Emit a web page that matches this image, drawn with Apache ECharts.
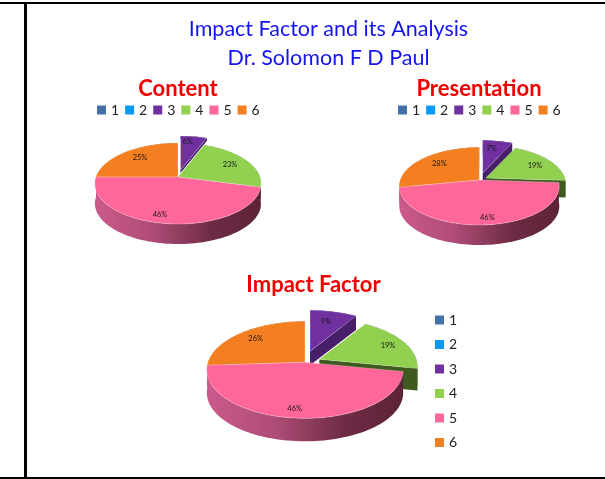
<!DOCTYPE html>
<html>
<head>
<meta charset="utf-8">
<style>html,body{margin:0;padding:0;background:#fff}#c{width:605px;height:479px}</style>
<script src="https://cdn.jsdelivr.net/npm/echarts@6/dist/echarts.min.js"></script>
</head>
<body>
<div id="c"></div>
<script>
// ----- data -----
var categories = ['1', '2', '3', '4', '5', '6'];
var contentValues = [0, 0, 6, 23, 46, 25];
var presentationValues = [0, 0, 7, 19, 46, 28];
var impactValues = [0, 0, 9, 19, 46, 26];

// ----- styles -----
var colors = ['#4472a8', '#0a98f5', '#7030a0', '#92d050', '#ff6699', '#f47f20'];
var sideColors = ['#2c4a6e', '#06629f', '#48206a', '#3e5a1e', '#a04a6e', '#9c5214'];

// ----- layout of the three pies -----
var pies = [
  { values: contentValues, cx: 178, cy: 177, rx: 82, ryTop: 34, ryBottom: 47, depth: 20,
    explode: { 2: [2.5, -7, 3] },
    labels: { 2: [9.7, -35], 3: [52, -12.7], 4: [-18, 38], 5: [-38, -19] } },
  { values: presentationValues, cx: 479.3, cy: 180, rx: 79, ryTop: 32.7, ryBottom: 45, depth: 20,
    explode: { 2: [3.4, -7, 15], 3: [6.5, -2, 17] },
    labels: { 2: [12.4, -31.7], 3: [55.7, -14.7], 4: [8, 37.3], 5: [-40, -16.7] } },
  { values: impactValues, cx: 305, cy: 362.3, rx: 97, ryTop: 41, ryBottom: 56, depth: 23,
    explode: { 2: [5, -11, 14], 3: [14.3, -3, 22] },
    labels: { 2: [21, -40.6], 3: [83, -17], 4: [-10.3, 46.7], 5: [-49.3, -24] } }
];

var DEG = Math.PI / 180;

function project(p, deg) {
  var persp = (p.ryBottom - p.ryTop) / (p.ryBottom + p.ryTop);
  var ry = p.ryTop * (1 + persp);
  var s = Math.sin(deg * DEG), c = Math.cos(deg * DEG), d = 1 + persp * c;
  return [p.rx * s / d, -ry * c / d];
}

function makeRenderItem(catIndex) {
  return function (params, api) {
    var value = api.value(0);
    if (!value) return null;
    var p = pies[params.dataIndex];
    var total = p.values.reduce(function (a, b) { return a + b; }, 0);
    var before = p.values.slice(0, catIndex).reduce(function (a, b) { return a + b; }, 0);
    var a0 = before / total * 360, a1 = (before + value) / total * 360;
    var ex = p.explode[catIndex];
    var ox = p.cx + (ex ? ex[0] : 0), oy = p.cy + (ex ? ex[1] : 0);
    var depth = ex ? ex[2] : p.depth;
    var rim = [];
    var n = Math.max(4, Math.ceil((a1 - a0) / 2));
    for (var k = 0; k <= n; k++) {
      var q = project(p, a0 + (a1 - a0) * k / n);
      rim.push([ox + q[0], oy + q[1]]);
    }
    var sidePts = rim.concat(rim.slice().reverse().map(function (r) { return [r[0], r[1] + depth]; }));
    var sideFill = sideColors[catIndex];
    if (catIndex === 4) {
      sideFill = new echarts.graphic.LinearGradient(0, 0, 1, 0, [
        { offset: 0, color: '#cb5a8c' },
        { offset: 0.35, color: '#ae4c76' },
        { offset: 0.7, color: '#6e2b45' },
        { offset: 1, color: '#5c2338' }
      ]);
    }
    var children = [{ type: 'polygon', shape: { points: sidePts }, style: { fill: sideFill } }];
    if (ex) {
      var end = rim[rim.length - 1];
      children.push({
        type: 'polygon',
        shape: { points: [[ox, oy], end, [end[0], end[1] + depth], [ox, oy + depth]] },
        style: { fill: sideColors[catIndex] }
      });
    }
    children.push({
      type: 'polygon',
      shape: { points: [[ox, oy]].concat(rim) },
      style: { fill: colors[catIndex], stroke: 'rgba(255,255,255,0.35)', lineWidth: 0.7 }
    });
    var lab = p.labels[catIndex];
    if (lab) {
      children.push({
        type: 'text',
        style: {
          x: p.cx + lab[0], y: p.cy + lab[1], text: value + '%',
          fill: '#1a1a1a', font: '7.5px Lato', align: 'center', verticalAlign: 'middle'
        }
      });
    }
    return { type: 'group', children: children };
  };
}

var paintOrder = [0, 1, 2, 3, 5, 4];
var series = paintOrder.map(function (i, order) {
  return {
    type: 'custom',
    name: categories[i],
    coordinateSystem: 'none',
    silent: true,
    z: 2 + order,
    itemStyle: { color: colors[i] },
    data: pies.map(function (p) { return [p.values[i]]; }),
    renderItem: makeRenderItem(i),
    animation: false
  };
});

var legendText = { fontFamily: 'Lato', fontSize: 14, color: '#222', lineHeight: 14 };

var option = {
  animation: false,
  backgroundColor: '#fff',
  title: [
    { text: 'Impact Factor and its Analysis\nDr. Solomon F D Paul', left: 323.5, top: 10, textAlign: 'center',
      textStyle: { fontFamily: 'Lato', fontSize: 21.5, fontWeight: 'normal', color: '#1414f0', lineHeight: 29 } },
    { text: 'Content', left: 173, top: 73, textAlign: 'center',
      textStyle: { fontFamily: 'Lato', fontSize: 22, fontWeight: 'bold', color: '#f00000' } },
    { text: 'Presentation', left: 474, top: 73, textAlign: 'center',
      textStyle: { fontFamily: 'Lato', fontSize: 22, fontWeight: 'bold', color: '#f00000' } },
    { text: 'Impact Factor', left: 308.5, top: 269, textAlign: 'center',
      textStyle: { fontFamily: 'Lato', fontSize: 22, fontWeight: 'bold', color: '#f00000' } }
  ],
  legend: [
    { data: categories, left: 97, top: 103, padding: 0, orient: 'horizontal', icon: 'rect', itemWidth: 9, itemHeight: 9, itemGap: 6, selectedMode: false, textStyle: legendText },
    { data: categories, left: 398, top: 103, padding: 0, orient: 'horizontal', icon: 'rect', itemWidth: 9, itemHeight: 9, itemGap: 6, selectedMode: false, textStyle: legendText },
    { data: categories, left: 435, top: 313, padding: 0, orient: 'vertical', icon: 'rect', itemWidth: 9, itemHeight: 9, itemGap: 10.5, selectedMode: false, textStyle: legendText }
  ],
  graphic: [
    { type: 'rect', shape: { x: 0, y: 2, width: 605, height: 2 }, style: { fill: '#000' }, silent: true },
    { type: 'rect', shape: { x: 24, y: 2, width: 3, height: 476 }, style: { fill: '#000' }, silent: true },
    { type: 'rect', shape: { x: 0, y: 477, width: 605, height: 2 }, style: { fill: '#000' }, silent: true }
  ],
  series: series
};

var chart = echarts.init(document.getElementById('c'), null, { renderer: 'canvas' });
chart.setOption(option);
</script>
</body>
</html>
